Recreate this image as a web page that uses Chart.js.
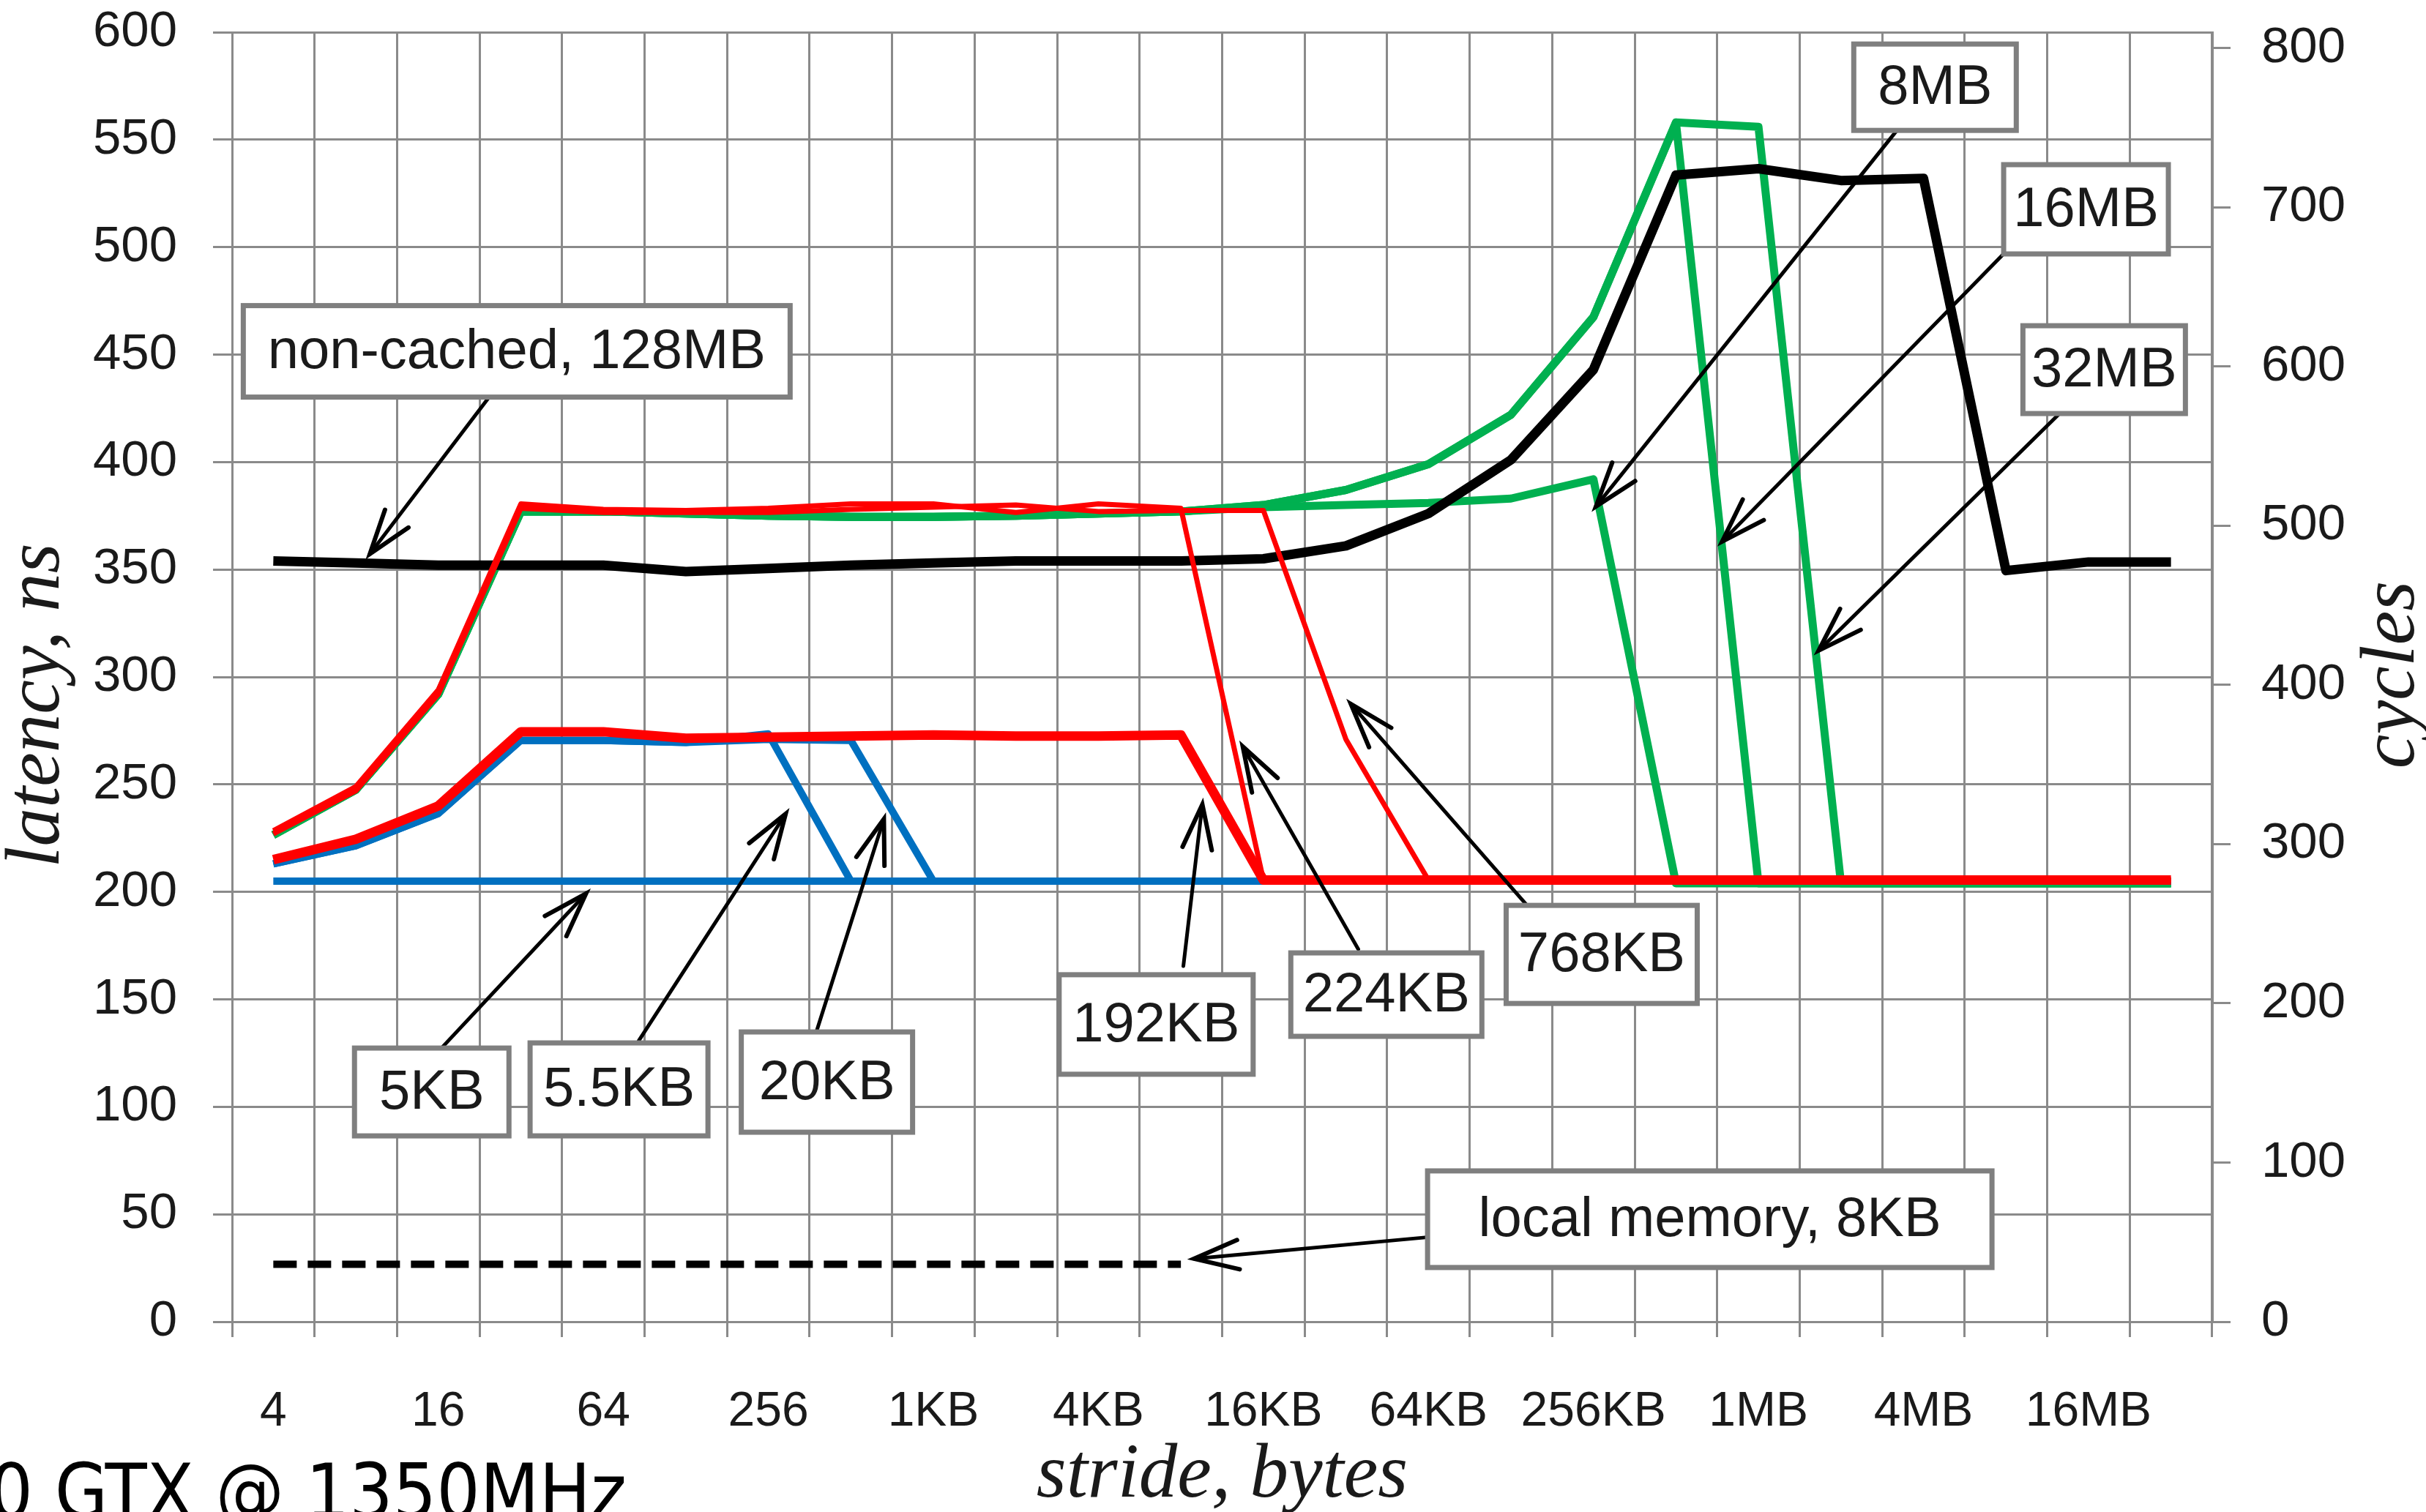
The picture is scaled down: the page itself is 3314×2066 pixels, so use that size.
<!DOCTYPE html>
<html>
<head>
<meta charset="utf-8">
<title>Latency vs stride</title>
<script src="https://cdn.jsdelivr.net/npm/chart.js@4.4.1/dist/chart.umd.min.js"></script>
<style>
  html, body { margin: 0; padding: 0; background: #fff; }
  #wrap { width: 3314px; height: 2066px; overflow: hidden; }
</style>
</head>
<body>
<div id="wrap"><canvas id="chart" width="3314" height="2066"></canvas></div>
<script>
// ===============================
//     DATA
// ===============================
const strides = ['4', '8', '16', '32', '64', '128', '256', '512', '1KB', '2KB', '4KB', '8KB',
  '16KB', '32KB', '64KB', '128KB', '256KB', '512KB', '1MB', '2MB', '4MB', '8MB', '16MB', '32MB'];
const strideTicks = ['4', '16', '64', '256', '1KB', '4KB', '16KB', '64KB', '256KB', '1MB', '4MB', '16MB'];
const cycleTicks = [0, 100, 200, 300, 400, 500, 600, 700, 800];

const latencyMax = 600;   // ns, left axis
const clockGHz = 1.35;    // right axis in cycles = ns * 1.35

// latency, ns
const nonCached128MB = [354, 353, 352, 352, 352, 349, 350.5, 352, 353, 354, 354, 354,
  355, 361, 376, 401, 443, 533.5, 536.5, 531, 532, 349.5, 353.5, 353.5];
const local8KB = [26.7, 26.7, 26.7, 26.7, 26.7, 26.7, 26.7, 26.7, 26.7, 26.7, 26.7, 26.7,
  null, null, null, null, null, null, null, null, null, null, null, null];
const tex5KB = [205, 205, 205, 205, 205, 205, 205, 205, 205, 205, 205, 205,
  205, 205, 205, 205, 205, 205, 205, 205, 205, 205, 205, 205];
const tex5_5KB = [213, 221.5, 236.5, 270.5, 270.5, 269.5, 273.5, 205, 205, 205, 205, 205,
  205, 205, 205, 205, 205, 205, 205, 205, 205, 205, 205, 205];
const tex20KB = [213, 221.5, 236.5, 270.5, 270.5, 269.5, 271, 270.5, 205, 205, 205, 205,
  205, 205, 205, 205, 205, 205, 205, 205, 205, 205, 205, 205];
const tex192KB = [215, 224.5, 240, 274.5, 274.5, 271.5, 272, 272.5, 273, 272.5, 272.5, 273,
  205.5, 205.5, 205.5, 205.5, 205.5, 205.5, 205.5, 205.5, 205.5, 205.5, 205.5, 205.5];
const tex224KB = [228.5, 249, 294, 380.5, 378, 377.5, 378.5, 380.5, 380.5, 376.5, 380.5, 378.5,
  205.5, 205.5, 205.5, 205.5, 205.5, 205.5, 205.5, 205.5, 205.5, 205.5, 205.5, 205.5];
const tex768KB = [227, 247, 292, 378.5, 376.5, 376.5, 376.5, 378, 379, 380, 377, 377.5,
  377.5, 271, 205.5, 205.5, 205.5, 205.5, 205.5, 205.5, 205.5, 205.5, 205.5, 205.5];
const tex8MB = [226.5, 247.5, 292, 377, 377, 376, 375, 374.5, 374.5, 375, 376, 377,
  379, 380, 381, 383, 392, 204, 204, 204, 204, 204, 204, 204];
const tex16MB = [226.5, 247.5, 292, 377, 377, 376, 375, 374.5, 374.5, 375, 376, 377,
  380, 387, 399, 422, 467.5, 558, 204, 204, 204, 204, 204, 204];
const tex32MB = [226.5, 247.5, 292, 377, 377, 376, 375, 374.5, 374.5, 375, 376, 377,
  380, 387, 399, 422, 467.5, 558, 556, 204, 204, 204, 204, 204];

// callouts: box centre and arrow ends in (stride index, latency ns)
const notes = [
  { text: 'non-cached, 128MB', at: [2.95, 451.5], w: 747, h: 125, from: [2.66, 432.5], to: [1.17, 357.2] },
  { text: '8MB', at: [20.14, 574.4], w: 222, h: 118, from: [19.68, 554.4], to: [16.03, 379.3] },
  { text: '16MB', at: [21.97, 517.6], w: 225, h: 122, from: [20.97, 496.8], to: [17.56, 363] },
  { text: '32MB', at: [22.19, 443], w: 222, h: 120, from: [21.65, 422.6], to: [18.73, 312.3] },
  { text: '5KB', at: [1.92, 106.9], w: 211, h: 120, from: [2.04, 127.4], to: [3.79, 199.2] },
  { text: '5.5KB', at: [4.19, 108.1], w: 243, h: 127, from: [4.43, 130.8], to: [6.21, 236.3] },
  { text: '20KB', at: [6.71, 111.5], w: 234, h: 137, from: [6.59, 135.9], to: [7.40, 233.9] },
  { text: '192KB', at: [10.70, 138.3], w: 265, h: 136, from: [11.03, 165.5], to: [11.26, 240.7] },
  { text: '224KB', at: [13.49, 152.2], w: 261, h: 114, from: [13.15, 173.3], to: [11.75, 267.6] },
  { text: '768KB', at: [16.10, 170.9], w: 261, h: 134, from: [15.18, 194.4], to: [13.06, 287.4] },
  { text: 'local memory, 8KB', at: [17.41, 47.7], w: 771, h: 132, from: [13.96, 39.2], to: [11.16, 29.3] }
];

const gridGray = '#8a8a8a';
const textColor = '#1a1a1a';

// ===============================
//     CALLOUTS + AXIS TITLES
// ===============================
function drawArrow(ctx, x1, y1, x2, y2) {
  const a = Math.atan2(y1 - y2, x1 - x2);
  const len = 64, spread = 0.32;
  ctx.beginPath();
  ctx.moveTo(x1, y1);
  ctx.lineTo(x2, y2);
  ctx.stroke();
  ctx.lineWidth = 6;
  ctx.beginPath();
  ctx.moveTo(x2 + len * Math.cos(a + spread), y2 + len * Math.sin(a + spread));
  ctx.lineTo(x2, y2);
  ctx.lineTo(x2 + len * Math.cos(a - spread), y2 + len * Math.sin(a - spread));
  ctx.stroke();
}

const calloutPlugin = {
  id: 'callouts',
  afterDatasetsDraw(chart) {
    const { ctx, scales: { x, y } } = chart;
    ctx.save();
    notes.forEach(n => {
      const cx = x.getPixelForValue(n.at[0]);
      const cy = y.getPixelForValue(n.at[1]);
      // arrow
      ctx.strokeStyle = '#000';
      ctx.lineWidth = 5;
      ctx.lineCap = 'round';
      ctx.lineJoin = 'miter';
      drawArrow(ctx, x.getPixelForValue(n.from[0]), y.getPixelForValue(n.from[1]),
        x.getPixelForValue(n.to[0]), y.getPixelForValue(n.to[1]));
      // box
      ctx.fillStyle = '#fff';
      ctx.fillRect(cx - n.w / 2, cy - n.h / 2, n.w, n.h);
      ctx.strokeStyle = '#7f7f7f';
      ctx.lineWidth = 7;
      ctx.strokeRect(cx - n.w / 2, cy - n.h / 2, n.w, n.h);
      // text
      ctx.fillStyle = textColor;
      ctx.font = '76px "Liberation Sans", Arial, sans-serif';
      ctx.textAlign = 'center';
      ctx.textBaseline = 'middle';
      ctx.fillText(n.text, cx, cy + 2);
    });
    ctx.restore();
  },
  afterDraw(chart) {
    const { ctx, chartArea } = chart;
    ctx.save();
    ctx.fillStyle = textColor;
    ctx.font = 'italic 105px "Liberation Serif", "Times New Roman", serif';
    ctx.textAlign = 'center';
    ctx.textBaseline = 'alphabetic';

    // x title
    ctx.fillText('stride, bytes', (chartArea.left + chartArea.right) / 2, 2045);

    // left title
    ctx.save();
    ctx.translate(80, 964);
    ctx.rotate(-Math.PI / 2);
    ctx.fillText('latency, ns', 0, 0);
    ctx.restore();

    // right title
    ctx.save();
    ctx.translate(3297, 922);
    ctx.rotate(-Math.PI / 2);
    ctx.fillText('cycles', 0, 0);
    ctx.restore();

    // cut-off caption at the bottom left
    ctx.fillStyle = '#000';
    ctx.font = '104px "DejaVu Sans Condensed", "DejaVu Sans", sans-serif';
    ctx.textAlign = 'right';
    ctx.fillText('0 GTX @ 1350MHz', 856, 2074);
    ctx.restore();
  }
};

// ===============================
//     CHART
// ===============================
function line(label, data, color, width, extra) {
  return Object.assign({
    label: label,
    data: data,
    borderColor: color,
    backgroundColor: color,
    borderWidth: width,
    fill: false,
    pointRadius: 0,
    tension: 0,
    borderJoinStyle: 'round',
    yAxisID: 'y'
  }, extra || {});
}

const tickFont = { family: '"Liberation Sans", Arial, sans-serif', size: 69 };

// fixed plot box: 317..3022 wide, 44..1806 high
function fixVertical(width) {
  return s => {
    s.width = width;
    s.paddingTop = 44;
    s.paddingBottom = 0;
  };
}

new Chart(document.getElementById('chart'), {
  type: 'line',
  data: {
    labels: strides,
    // first dataset is painted on top
    datasets: [
      line('192KB', tex192KB, '#ff0000', 13),
      line('224KB', tex224KB, '#ff0000', 7),
      line('768KB', tex768KB, '#ff0000', 7),
      line('non-cached, 128MB', nonCached128MB, '#000000', 13),
      line('5KB', tex5KB, '#0070c0', 10),
      line('5.5KB', tex5_5KB, '#0070c0', 10),
      line('20KB', tex20KB, '#0070c0', 10),
      line('8MB', tex8MB, '#00b050', 11),
      line('16MB', tex16MB, '#00b050', 11),
      line('32MB', tex32MB, '#00b050', 11),
      line('local memory, 8KB', local8KB, '#000000', 10, { borderDash: [32, 15], spanGaps: false })
    ]
  },
  options: {
    responsive: false,
    devicePixelRatio: 1,
    animation: false,
    layout: { padding: 0 },
    plugins: {
      legend: { display: false },
      tooltip: { enabled: false }
    },
    scales: {
      x: {
        type: 'category',
        offset: true,
        grid: { offset: true, color: gridGray, lineWidth: 3, tickLength: 21 },
        border: { color: gridGray, width: 3 },
        ticks: {
          autoSkip: false,
          maxRotation: 0,
          padding: 63,
          color: textColor,
          font: { family: tickFont.family, size: 66 },
          callback: (v, i) => strideTicks.includes(strides[i]) ? strides[i] : ''
        },
        afterFit: s => { s.height = 260; s.paddingLeft = 0; s.paddingRight = 0; }
      },
      y: {
        position: 'left',
        min: 0,
        max: latencyMax,
        ticks: { stepSize: 50, padding: 49, color: textColor, font: tickFont },
        grid: { color: gridGray, lineWidth: 3, tickLength: 26 },
        border: { color: gridGray, width: 3 },
        afterFit: fixVertical(317)
      },
      y2: {
        position: 'right',
        min: 0,
        max: latencyMax * clockGHz,
        ticks: { padding: 42, color: textColor, font: tickFont },
        afterBuildTicks: s => { s.ticks = cycleTicks.map(v => ({ value: v })); },
        grid: { drawOnChartArea: false, color: gridGray, lineWidth: 3, tickLength: 25 },
        border: { color: gridGray, width: 3 },
        afterFit: fixVertical(292)
      }
    }
  },
  plugins: [calloutPlugin]
});
</script>
</body>
</html>
